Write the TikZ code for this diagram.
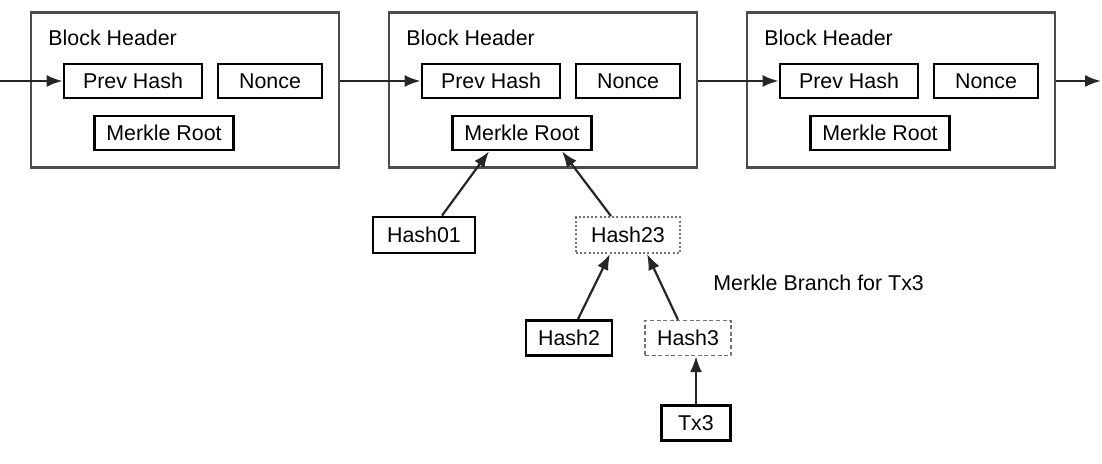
\documentclass[tikz,border=0pt]{standalone}
\usepackage{fontspec}
\setmainfont{Liberation Sans}
\usetikzlibrary{positioning,arrows.meta,calc}

\begin{document}
\begin{tikzpicture}[
  x=0.5pt, y=-0.5pt,
  font=\fontsize{10.7}{12}\selectfont,
  blockbox/.style={draw=black!70, line width=1.1pt, minimum width=154pt,
                   minimum height=77.5pt, inner sep=0pt},
  field/.style={draw=black, line width=1.4pt, minimum height=17pt, inner sep=0pt},
  branchbox/.style={draw=black!55, line width=0.9pt, minimum height=18pt, inner sep=0pt},
  arr/.style={-{Latex[length=8pt,width=6pt]}, line width=1.1pt, black!85},
  lab/.style={anchor=west, inner sep=0pt}
]
\useasboundingbox (0,0) rectangle (1102,464);
% ----- chain of block headers -----
\foreach \i/\x in {1/185, 2/543, 3/901}{
  \node[blockbox] (block\i) at (\x,90) {};
  \node[lab] (title\i) at (\x-137,38) {Block Header};
  \node[field, minimum width=69pt] (prev\i) at (\x-52,81) {Prev Hash};
  \node[field, minimum width=52pt] (nonce\i) at (\x+85,81) {Nonce};
  \node[field, minimum width=69.5pt] (root\i) at (\x-21,133) {Merkle Root};
}
\coordinate (chainin) at (0,81);
\coordinate (chainout) at (1101,81);
\draw[arr] (chainin) -- (prev1.west);
\foreach \a/\b in {1/2, 2/3}{\draw[arr] (block\a.east |- prev\a) -- (prev\b.west);}
\draw[arr] (block3.east |- prev3) -- (chainout);
% ----- merkle branch under the middle block -----
\node[field, minimum width=51pt, minimum height=18pt] (hash01) at (424,235) {Hash01};
\node[branchbox, dash pattern=on 1pt off 1.1pt, minimum width=52pt] (hash23) at (628,235) {Hash23};
\node[field, minimum width=43pt, minimum height=17.5pt] (hash2) at (569,338) {Hash2};
\node[branchbox, dash pattern=on 2pt off 1.3pt, line width=0.7pt, minimum width=43pt,
      minimum height=17.5pt] (hash3) at (688,338) {Hash3};
\node[field, minimum width=34.5pt, minimum height=17.5pt] (tx3) at (696,423) {Tx3};
\node[lab] (branchlabel) at (713,283) {Merkle Branch for Tx3};
\draw[arr] ($(hash01.north)+(18,0)$) -- ($(root2.south)+(-33,0)$);
\draw[arr] ($(hash23.north)+(-17,0)$) -- ($(root2.south)+(40,0)$);
\draw[arr] ($(hash2.north)+(9,0)$) -- ($(hash23.south)+(-18,0)$);
\draw[arr] ($(hash3.north)+(-10,0)$) -- ($(hash23.south)+(19,0)$);
\draw[arr] (tx3.north) -- (tx3.north |- hash3.south);
\end{tikzpicture}
\end{document}
